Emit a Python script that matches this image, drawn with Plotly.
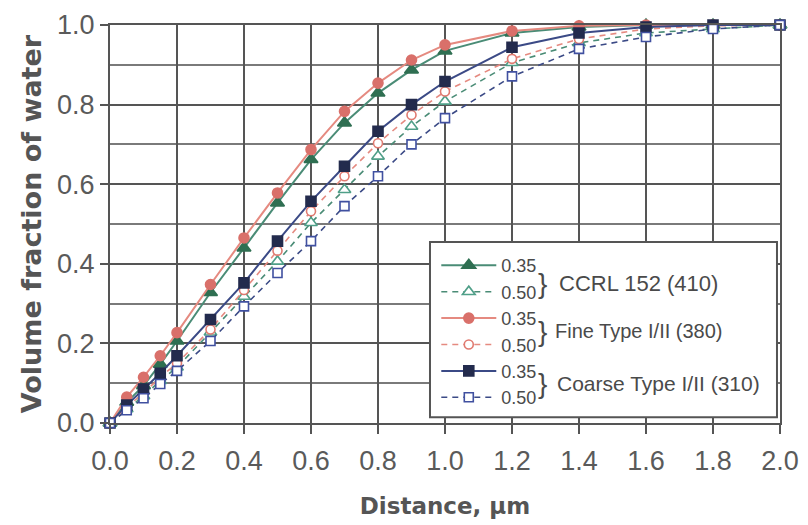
import plotly.graph_objects as go

distance = [0, 0.05, 0.1, 0.15, 0.2, 0.3, 0.4, 0.5, 0.6, 0.7, 0.8, 0.9, 1.0, 1.2, 1.4, 1.6, 1.8, 2.0]

ccrl_035 = [0, 0.052, 0.094, 0.148, 0.206, 0.328, 0.44, 0.553, 0.662, 0.754, 0.829, 0.887, 0.935, 0.98, 0.995, 1.0, 1.0, 1.0]
ccrl_050 = [0, 0.035, 0.068, 0.106, 0.14, 0.228, 0.318, 0.406, 0.503, 0.586, 0.67, 0.745, 0.808, 0.905, 0.955, 0.98, 0.99, 1.0]
fine_035 = [0, 0.065, 0.115, 0.169, 0.227, 0.348, 0.465, 0.578, 0.687, 0.783, 0.854, 0.912, 0.95, 0.985, 0.998, 1.0, 1.0, 1.0]
fine_050 = [0, 0.04, 0.075, 0.115, 0.15, 0.235, 0.334, 0.433, 0.532, 0.62, 0.703, 0.774, 0.833, 0.915, 0.965, 0.99, 0.998, 1.0]
coarse_035 = [0, 0.045, 0.085, 0.125, 0.169, 0.26, 0.352, 0.457, 0.557, 0.645, 0.733, 0.80, 0.858, 0.944, 0.98, 0.995, 1.0, 1.0]
coarse_050 = [0, 0.032, 0.062, 0.098, 0.131, 0.206, 0.293, 0.377, 0.457, 0.545, 0.62, 0.70, 0.766, 0.871, 0.94, 0.97, 0.99, 1.0]

wc_labels = ["0.35", "0.50"]
group_labels = ["CCRL 152 (410)", "Fine Type I/II (380)", "Coarse Type I/II (310)"]

x_ticks = [0, 0.2, 0.4, 0.6, 0.8, 1.0, 1.2, 1.4, 1.6, 1.8, 2.0]
y_ticks = [0, 0.2, 0.4, 0.6, 0.8, 1.0]

GREEN_L, GREEN_M, GREEN_O = "#4a8c76", "#2f6f52", "#4f9f88"
RED_L, RED_M, RED_O = "#e58a80", "#d9706a", "#e07a70"
NAVY_L, NAVY_M, NAVY_O = "#3b4a86", "#232b4d", "#4050a0"

series = [
    (ccrl_035, wc_labels[0], GREEN_L, "triangle-up", GREEN_M, GREEN_M, "solid", 12),
    (ccrl_050, wc_labels[1], GREEN_L, "triangle-up", "white", GREEN_O, "dash", 11),
    (fine_035, wc_labels[0], RED_L, "circle", RED_M, RED_M, "solid", 10),
    (fine_050, wc_labels[1], RED_L, "circle", "white", RED_O, "dash", 9),
    (coarse_035, wc_labels[0], NAVY_L, "square", NAVY_M, NAVY_M, "solid", 10),
    (coarse_050, wc_labels[1], NAVY_L, "square", "white", NAVY_O, "dash", 9),
]

fig = go.Figure()
for ys, name, lc, sym, fill, mline, dash, size in series:
    fig.add_trace(go.Scatter(
        x=distance, y=ys, name=name, mode="lines+markers",
        line=dict(color=lc, width=2 if dash == "solid" else 1.6,
                  dash="solid" if dash == "solid" else "6px,5px"),
        marker=dict(symbol=sym, size=size, color=fill,
                    line=dict(color=mline, width=1.6)),
        cliponaxis=False,
    ))

GRID = "#555555"
TICKFONT = dict(family="Liberation Sans, Arial, sans-serif", size=27, color="#5a5a5a")

# page body has an 8px margin; figure sized/positioned to compensate
fig.update_layout(
    width=800, height=517,
    margin=dict(l=102, r=28, t=17, b=102),
    paper_bgcolor="white", plot_bgcolor="white",
    showlegend=True,
    legend=dict(
        x=0.487, y=0.442, xanchor="left", yanchor="top",
        bgcolor="rgba(0,0,0,0)", borderwidth=0,
        font=dict(family="Liberation Sans, Arial, sans-serif", size=18, color="#4a4a4a"),
        itemwidth=55, tracegroupgap=0,
    ),
    xaxis=dict(
        range=[0, 2.0], tickmode="array", tickvals=x_ticks, tickformat=".1f",
        automargin=False,
        showgrid=True, gridcolor=GRID, gridwidth=2,
        showline=True, linecolor=GRID, linewidth=2, mirror=True,
        ticks="outside", ticklen=9, tickwidth=2, tickcolor=GRID,
        tickfont=TICKFONT, zeroline=False, ticklabelstandoff=4,
        title=dict(text="Distance, µm", standoff=22,
                   font=dict(family="DejaVu Sans, sans-serif", size=23, color="#555555", weight="bold")),
    ),
    yaxis=dict(
        range=[0, 1.0], tickmode="array", tickvals=y_ticks, tickformat=".1f",
        automargin=False,
        showgrid=True, gridcolor=GRID, gridwidth=2,
        minor=dict(dtick=0.1, showgrid=True, gridcolor="#7a7a7a", gridwidth=1.5, ticks=""),
        showline=True, linecolor=GRID, linewidth=2, mirror=True,
        ticks="outside", ticklen=8, tickwidth=2, tickcolor=GRID,
        tickfont=TICKFONT, zeroline=False,
        title=dict(text="Volume fraction of water", standoff=8,
                   font=dict(family="DejaVu Sans, sans-serif", size=27, color="#555555", weight="bold")),
    ),
)

# legend frame
fig.add_shape(type="rect", xref="paper", yref="paper",
              x0=0.4776, x1=0.9955, y0=0.0143, y1=0.455,
              line=dict(color=GRID, width=2), fillcolor="white", layer="above")

# brace + group labels next to legend rows
row_y = [0.351, 0.231, 0.100]
label_x = [0.667, 0.661, 0.664]
label_size = [22, 20, 21]
for i, g in enumerate(group_labels):
    fig.add_annotation(xref="paper", yref="paper", x=0.636, y=row_y[i], text="}",
                       showarrow=False, xanchor="left", yanchor="middle",
                       font=dict(family="Liberation Sans, Arial, sans-serif", size=28, color="#4a4a4a"))
    fig.add_annotation(xref="paper", yref="paper", x=label_x[i], y=row_y[i], text=g,
                       showarrow=False, xanchor="left", yanchor="middle",
                       font=dict(family="Liberation Sans, Arial, sans-serif",
                                 size=label_size[i], color="#4a4a4a"))

fig.write_html("out.html")
